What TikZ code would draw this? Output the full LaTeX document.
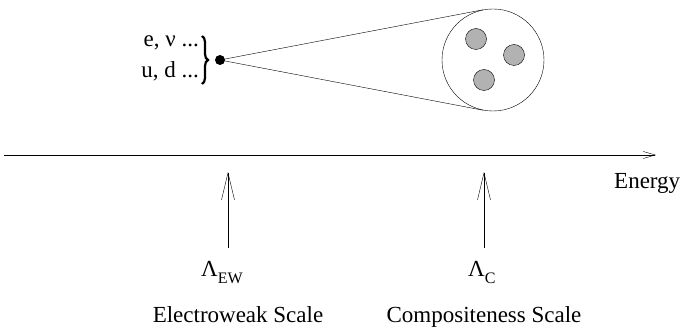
\documentclass[tikz,border=0pt]{standalone}
\usepackage{fontspec}
\setmainfont{Liberation Serif}
\usetikzlibrary{arrows.meta, calc, decorations.pathreplacing}

\newcommand{\figfont}{\fontsize{23}{28}\selectfont}
\newcommand{\subfont}{\fontsize{16}{16}\selectfont}

\begin{document}
\begin{tikzpicture}[x=1pt, y=-1pt,
    every node/.style={font=\figfont, inner sep=0pt},
    quark/.style={circle, draw, fill=black!30, minimum size=21pt},
    scalearrow/.style={-{Straight Barb[length=27pt, width=13pt]}}]
  \useasboundingbox (0, 0) rectangle (681, 331);
  % particles and bracket
  \node[anchor=base east] (lepton) at (199, 47) {e, ν ...};
  \node[anchor=base east] (quarks) at (199, 78) {u, d ...};
  \draw[line width=2.2pt, decorate, decoration={brace, amplitude=6pt}]
    (202, 36) -- (202, 84);
  % point-like particle opened up into a composite
  \node[circle, fill, minimum size=10pt] (dot) at (220, 60) {};
  \node[circle, draw, minimum size=102pt] (hadron) at (493, 60) {};
  \draw (dot.center) -- (tangent cs:node=hadron, point={(dot.center)}, solution=1);
  \draw (dot.center) -- (tangent cs:node=hadron, point={(dot.center)}, solution=2);
  \node[quark] (q1) at (476, 39) {};
  \node[quark] (q2) at (514, 55) {};
  \node[quark] (q3) at (484, 80) {};
  % energy axis
  \coordinate (axisL) at (4, 155);
  \coordinate (axisR) at (656, 155);
  \draw[-{Straight Barb[length=12pt, width=7pt]}] (axisL) -- (axisR);
  \node[anchor=base west] (energy) at (614, 189) {Energy};
  % scales
  \coordinate (ewfoot) at (228, 248);
  \coordinate (ewtip) at (228, 172);
  \coordinate (cfoot) at (484, 248);
  \coordinate (ctip) at (484, 172);
  \draw[scalearrow] (ewfoot) -- (ewtip);
  \draw[scalearrow] (cfoot) -- (ctip);
  \node[anchor=base west] (lew) at (201, 277) {Λ\raisebox{-0.3em}{\subfont EW}};
  \node[anchor=base west] (lc) at (468, 277) {Λ\raisebox{-0.3em}{\subfont C}};
  \node[anchor=base] (ewname) at (238, 323) {Electroweak Scale};
  \node[anchor=base] (cname) at (484, 323) {Compositeness Scale};
\end{tikzpicture}
\end{document}
